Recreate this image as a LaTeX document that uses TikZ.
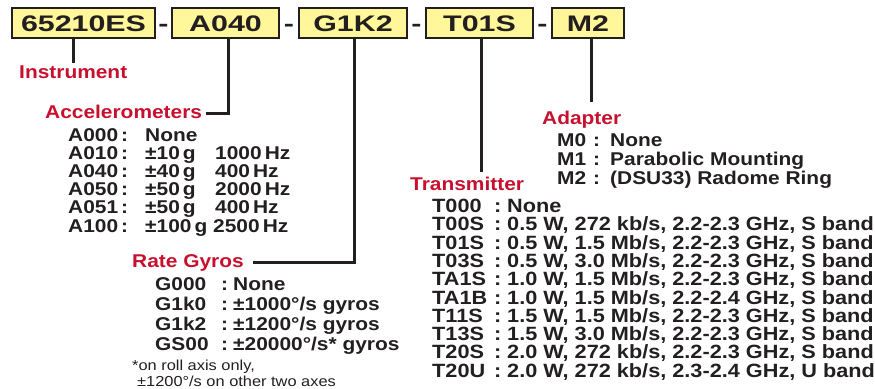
\documentclass[tikz,border=0pt]{standalone}
\usepackage{fontspec}
\setmainfont{Liberation Sans}
\newfontfamily\boxfont[FakeStretch=1.35]{Liberation Sans}
\newfontfamily\listfont[FakeStretch=1.13]{Liberation Sans}
\usetikzlibrary{positioning}
\definecolor{labelred}{HTML}{C8102E}
\definecolor{boxyellow}{HTML}{FFF79A}
\definecolor{inkblack}{HTML}{231F20}
\tikzset{
  partbox/.style={draw=inkblack, fill=boxyellow, line width=1.1pt, minimum height=30pt,
    text height=16pt, text depth=0pt, inner xsep=0pt, text=inkblack,
    font=\boxfont\bfseries\fontsize{22.5}{22.5}\selectfont},
  dashsep/.style={anchor=base, inner sep=0pt, text=inkblack,
    font=\boxfont\bfseries\fontsize{22.5}{22.5}\selectfont},
  grouplabel/.style={anchor=base west, text=labelred, inner xsep=4pt, inner ysep=1pt,
    text height=10pt, text depth=0pt, font=\listfont\bfseries\fontsize{18.5}{18.5}\selectfont},
  item/.style={anchor=base west, inner sep=0pt, text=inkblack,
    font=\listfont\bfseries\fontsize{18.5}{18.5}\selectfont},
  note/.style={anchor=base west, inner sep=0pt, text=inkblack,
    font=\listfont\fontsize{14.5}{14.5}\selectfont},
  lead/.style={line width=3pt, draw=inkblack},
}
\begin{document}
\begin{tikzpicture}[x=1pt, y=-1pt]
  \useasboundingbox (0,0) rectangle (875,388);

  % Part number boxes
  \node[partbox, minimum width=143pt] (inst) at (83.5,23) {65210ES};
  \node[partbox, minimum width=107pt] (acc)  at (225.5,23) {A040};
  \node[partbox, minimum width=108pt] (gyro) at (353,23) {G1K2};
  \node[partbox, minimum width=107pt] (tx)   at (479.5,23) {T01S};
  \node[partbox, minimum width=72pt]  (adp)  at (588,23) {M2};
  \node[dashsep] (d1) at (163.5,31) {-};
  \node[dashsep] (d2) at (289,31) {-};
  \node[dashsep] (d3) at (416.5,31) {-};
  \node[dashsep] (d4) at (542.5,31) {-};

  % Group labels
  \node[grouplabel] (instl) at (15,78) {Instrument};
  \node[grouplabel] (accl)  at (41,118.5) {Accelerometers};
  \node[grouplabel] (gyrol) at (128,267) {Rate Gyros};
  \node[grouplabel] (txl)   at (406,190) {Transmitter};
  \node[grouplabel] (adpl)  at (538,124) {Adapter};

  % Leads
  \draw[lead] (instl.north |- inst.south) -- ([yshift=4pt]instl.north);
  \draw[lead] ([xshift=2.5pt]acc.south) |- (accl.east);
  \draw[lead] ([xshift=1pt]gyro.south) |- ([xshift=5pt]gyrol.east);
  \draw[lead, shorten >=7pt] ([xshift=1.5pt]tx.south) -- ([xshift=1.5pt]tx.south |- txl.north);
  \draw[lead, shorten >=11pt] ([xshift=3pt]adp.south) -- ([xshift=3pt]adp.south |- adpl.north);

  % Accelerometers
  \foreach \code/\rng/\freq [count=\i from 0] in {A000/None/{}, A010/{±10\,g}/{1000\,Hz},
      A040/{±40\,g}/{400\,Hz}, A050/{±50\,g}/{2000\,Hz}, A051/{±50\,g}/{400\,Hz},
      A100/{±100\,g 2500\,Hz}/{}}
    \node[item] (a\i) at (68,{141+18.2*\i})
      {\makebox[53pt][l]{\code}\makebox[24pt][l]{:}\makebox[70pt][l]{\rng}\freq};

  % Rate gyros
  \foreach \code/\val [count=\i from 0] in {G000/None, G1k0/{±1000°/s gyros},
      G1k2/{±1200°/s gyros}, GS00/{±20000°/s* gyros}}
    \node[item] (g\i) at (155,{290+20*\i})
      {\makebox[66pt][l]{\code}\makebox[12pt][l]{:}\val};
  \node[note] (n1) at (132,370) {*on roll axis only,};
  \node[note] (n2) at (137,386) {±1200°/s on other two axes};

  % Transmitters
  \foreach \code/\val [count=\i from 0] in {T000/None,
      T00S/{0.5 W, 272 kb/s, 2.2-2.3 GHz, S band},
      T01S/{0.5 W, 1.5 Mb/s, 2.2-2.3 GHz, S band},
      T03S/{0.5 W, 3.0 Mb/s, 2.2-2.3 GHz, S band},
      TA1S/{1.0 W, 1.5 Mb/s, 2.2-2.3 GHz, S band},
      TA1B/{1.0 W, 1.5 Mb/s, 2.2-2.4 GHz, S band},
      T11S/{1.5 W, 1.5 Mb/s, 2.2-2.3 GHz, S band},
      T13S/{1.5 W, 3.0 Mb/s, 2.2-2.3 GHz, S band},
      T20S/{2.0 W, 272 kb/s, 2.2-2.3 GHz, S band},
      T20U/{2.0 W, 272 kb/s, 2.3-2.4 GHz, U band}}
    \node[item, font=\listfont\bfseries\fontsize{19.2}{19.2}\selectfont] (t\i) at (432,{212.5+18.3*\i})
      {\makebox[62pt][l]{\code}\makebox[13pt][l]{:}\val};

  % Adapters
  \foreach \code/\val [count=\i from 0] in {M0/None, M1/{Parabolic Mounting},
      M2/{(DSU33) Radome Ring}}
    \node[item] (m\i) at (557,{146+19*\i})
      {\makebox[36pt][l]{\code}\makebox[17pt][l]{:}\val};
\end{tikzpicture}
\end{document}
